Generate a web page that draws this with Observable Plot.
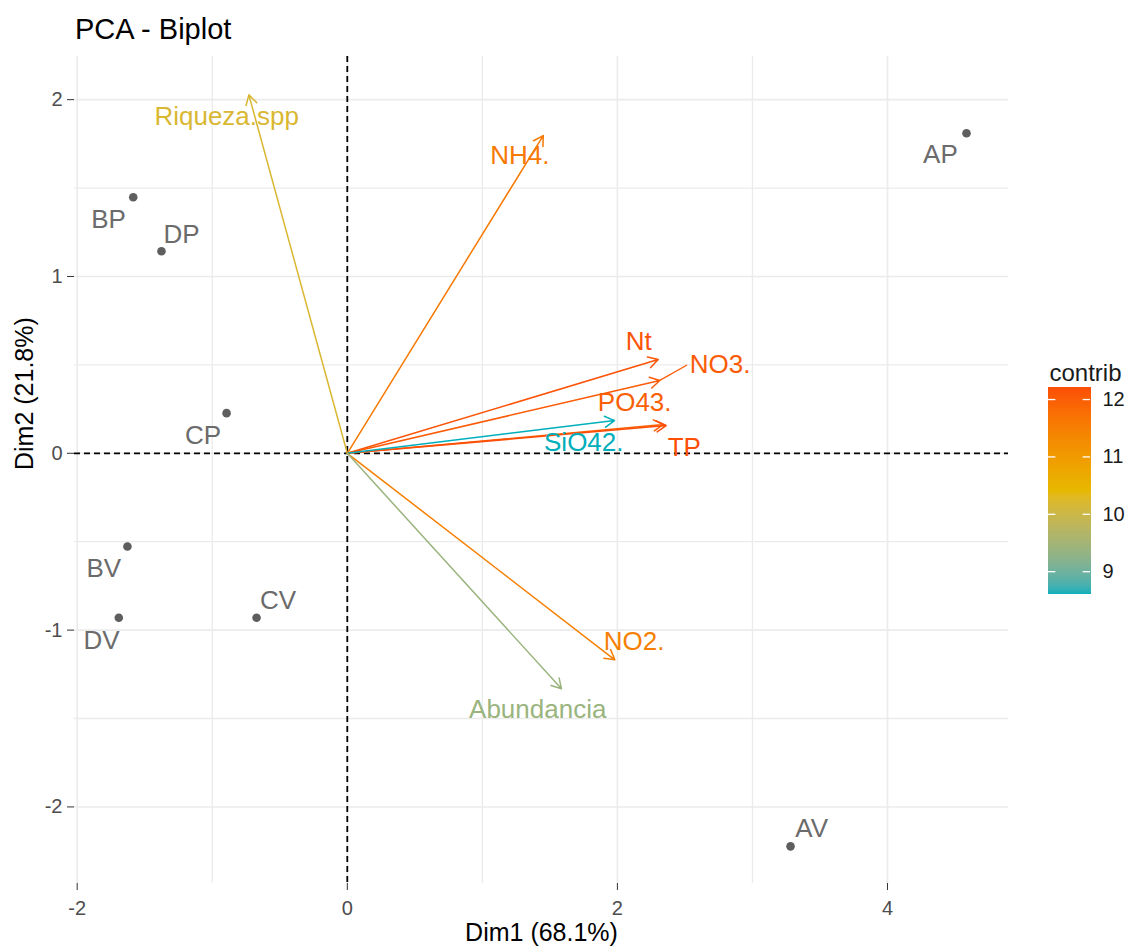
<!DOCTYPE html>
<html>
<head>
<meta charset="utf-8">
<script src="https://cdn.jsdelivr.net/npm/d3@7"></script>
<script src="https://cdn.jsdelivr.net/npm/@observablehq/plot@0.6"></script>
<style>
  html, body { margin: 0; padding: 0; background: #fff; }
  #fig { position: relative; width: 1131px; height: 950px; font-family: "Liberation Sans", Arial, sans-serif; }
  #title { position: relative; height: 56px; }
  #title span { position: absolute; left: 75px; top: 15px; font-size: 29px; line-height: 29px; color: #000; }
  #legend { position: absolute; left: 1040px; top: 340px; }
  #chart svg g[aria-label*="axis"] line,
  #chart svg g[aria-label*="axis tick"] path { stroke: #333; }
</style>
</head>
<body>
<div id="fig">
  <div id="title"><span>PCA - Biplot</span></div>
  <div id="chart"></div>
  <div id="legend"></div>
</div>
<script>
// Individuals (PCA scores)
const indName   = ["AP", "BP", "DP", "CP", "BV", "DV", "CV", "AV"];
const indX      = [4.585, -1.585, -1.376, -0.894, -1.628, -1.692, -0.672, 3.282];
const indY      = [1.810, 1.448, 1.143, 0.227, -0.527, -0.930, -0.930, -2.223];
// repelled label anchors (data units)
const indLabelX = [4.392, -1.768, -1.228, -1.068, -1.803, -1.820, -0.513, 3.439];
const indLabelY = [1.687, 1.323, 1.239, 0.102, -0.653, -1.057, -0.831, -2.123];

// Variables (scaled loadings)
const varName    = ["Riqueza.spp", "NH4.", "Nt", "NO3.", "PO43.", "TP", "SiO42.", "NO2.", "Abundancia"];
const varX       = [-0.729, 1.451, 2.302, 2.314, 2.340, 2.361, 1.978, 1.981, 1.586];
const varY       = [2.027, 1.797, 0.530, 0.412, 0.163, 0.157, 0.185, -1.168, -1.332];
const varContrib = [10.2, 11.6, 12.15, 12.05, 12.0, 12.21, 8.62, 11.5, 9.4];
const varLabelX  = [-0.893, 1.277, 2.158, 2.761, 2.128, 2.495, 1.751, 2.124, 1.410];
const varLabelY  = [1.906, 1.682, 0.631, 0.499, 0.284, 0.032, 0.058, -1.068, -1.448];

// Axis ticks
const xMajor = [-2, 0, 2, 4];
const xMinor = [-1, 1, 3];
const yMajor = [-2, -1, 0, 1, 2];
const yMinor = [-1.5, -0.5, 0.5, 1.5];
const legendTicks = [9, 10, 11, 12];
const gradientColors = ["#00AFBB", "#E7B800", "#FC4E07"];

const inds = indName.map((n, i) => ({name: n, x: indX[i], y: indY[i], lx: indLabelX[i], ly: indLabelY[i]}));
const vars = varName.map((n, i) => ({name: n, x: varX[i], y: varY[i], contrib: varContrib[i], lx: varLabelX[i], ly: varLabelY[i]}));

const cMin = d3.min(varContrib), cMax = d3.max(varContrib);
const colorOpts = {
  type: "linear",
  domain: [cMin, (cMin + cMax) / 2, cMax],
  range: gradientColors,
  interpolate: d3.interpolateLab
};

// connector for the repelled NO3. label (from arrow tip to the label's left side)
const no3 = vars.find(d => d.name === "NO3.");
const connectors = [{x1: no3.x, y1: no3.y, x2: no3.lx - 0.245, y2: no3.ly}];

const font = "Liberation Sans, Arial, sans-serif";

const chart = Plot.plot({
  width: 1131,
  height: 894,
  marginTop: 0,
  marginLeft: 74,
  marginRight: 123,
  marginBottom: 67,
  x: {domain: [-2.02, 4.896], ticks: xMajor, tickSize: 7, tickPadding: 10, tickFormat: d => String(d), label: null},
  y: {domain: [-2.433, 2.244], ticks: yMajor, tickSize: 7, tickPadding: 5, tickFormat: d => String(d), label: null},
  color: colorOpts,
  style: {fontFamily: font, fontSize: "20px", color: "#4d4d4d", background: "transparent", overflow: "visible"},
  marks: [
    Plot.ruleX(xMinor, {stroke: "#ebebeb", strokeWidth: 1.3}),
    Plot.ruleY(yMinor, {stroke: "#ebebeb", strokeWidth: 1.3}),
    Plot.ruleX(xMajor, {stroke: "#ebebeb", strokeWidth: 1.6}),
    Plot.ruleY(yMajor, {stroke: "#ebebeb", strokeWidth: 1.6}),
    Plot.ruleX([0], {stroke: "#000", strokeWidth: 1.8, strokeDasharray: "6,4"}),
    Plot.ruleY([0], {stroke: "#000", strokeWidth: 1.8, strokeDasharray: "6,4"}),
    Plot.dot(inds, {x: "x", y: "y", r: 4.3, fill: "#5e5e5e", stroke: null}),
    Plot.text(inds, {x: "lx", y: "ly", text: "name", fill: "#6b6b6b", fontSize: 26}),
    Plot.arrow(vars, {x1: d => 0, y1: d => 0, x2: "x", y2: "y", stroke: "contrib", strokeWidth: 1.5, headLength: 11}),
    Plot.link(connectors, {x1: "x1", y1: "y1", x2: "x2", y2: "y2", stroke: () => no3.contrib, strokeWidth: 1.3}),
    Plot.text(vars, {x: "lx", y: "ly", text: "name", fill: "contrib", fontSize: 26}),
    Plot.text(["Dim1 (68.1%)"], {frameAnchor: "bottom", dy: 57, text: d => d, fontSize: 25, fill: "#000"}),
    Plot.text(["Dim2 (21.8%)"], {frameAnchor: "left", dx: -50, rotate: -90, text: d => d, fontSize: 25, fill: "#000"})
  ]
});
document.getElementById("chart").appendChild(chart);

// vertical colour bar legend
const nSteps = 206;
const steps = d3.range(nSteps).map(i => {
  const a = cMin + (cMax - cMin) * i / nSteps;
  const b = cMin + (cMax - cMin) * (i + 1) / nSteps;
  return {a, b, m: (a + b) / 2};
});
const legend = Plot.plot({
  width: 91,
  height: 270,
  marginLeft: 8,
  marginRight: 41,
  marginTop: 47,
  marginBottom: 17,
  x: {domain: [0, 1], axis: null},
  y: {domain: [cMin, cMax], axis: null},
  color: colorOpts,
  style: {fontFamily: font, background: "transparent", overflow: "visible"},
  marks: [
    Plot.rect(steps, {x1: d => 0, x2: d => 1, y1: "a", y2: "b", fill: "m", stroke: "m", strokeWidth: 1, shapeRendering: "crispEdges"}),
    Plot.ruleY(legendTicks, {x1: d => 0, x2: d => 0.175, stroke: "#fff", strokeWidth: 1.3}),
    Plot.ruleY(legendTicks, {x1: d => 0.825, x2: d => 1, stroke: "#fff", strokeWidth: 1.3}),
    Plot.text(legendTicks, {y: d => d, frameAnchor: "right", dx: 12, textAnchor: "start", text: d => String(d), fontSize: 20, fill: "#1a1a1a"}),
    Plot.text(["contrib"], {frameAnchor: "top-left", dx: 1, dy: -24, textAnchor: "start", text: d => d, fontSize: 24, fill: "#1a1a1a"})
  ]
});
document.getElementById("legend").appendChild(legend);
</script>
</body>
</html>
